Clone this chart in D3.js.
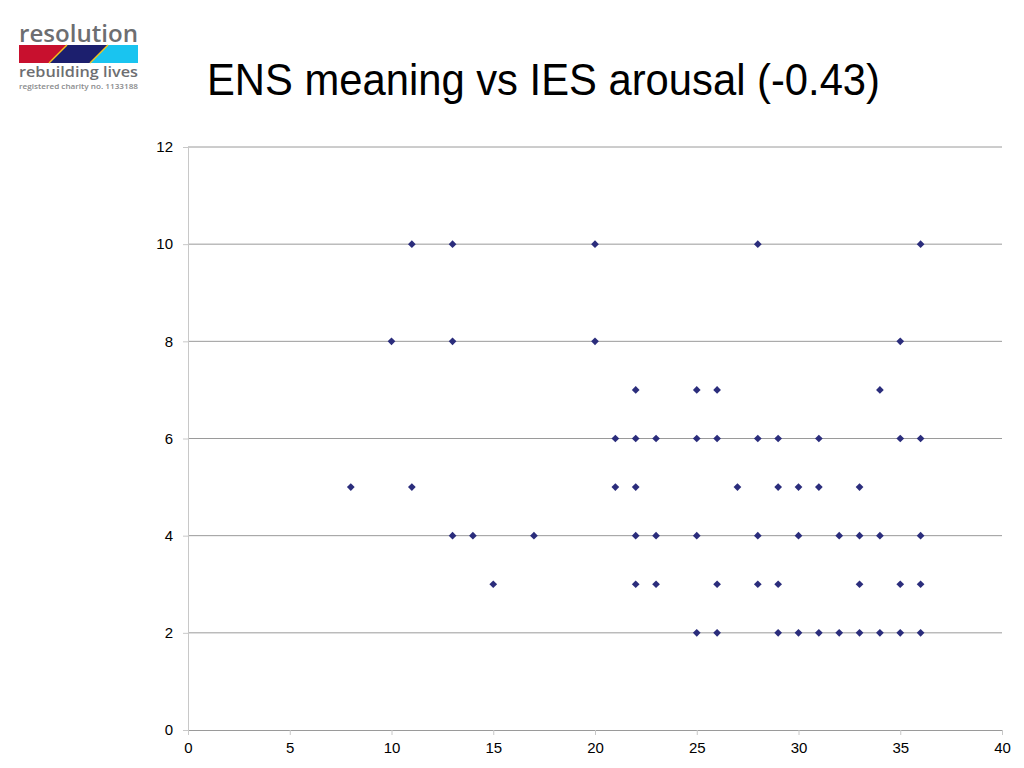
<!DOCTYPE html>
<html>
<head>
<meta charset="utf-8">
<script src="https://cdn.jsdelivr.net/npm/d3@7"></script>
<style>
  html, body { margin: 0; padding: 0; background: #fff; }
  svg { display: block; font-family: "Liberation Sans", Arial, sans-serif; }
</style>
</head>
<body>
<svg id="chart" width="1024" height="768"></svg>
<script>
// ---- Data (IES arousal on x, ENS meaning on y) ----
const iesArousal = [
  11, 13, 20, 28, 36,
  10, 13, 20, 35,
  22, 25, 26, 34,
  21, 22, 23, 25, 26, 28, 29, 31, 35, 36,
  8, 11, 21, 22, 27, 29, 30, 31, 33,
  13, 14, 17, 22, 23, 25, 28, 30, 32, 33, 34, 36,
  15, 22, 23, 26, 28, 29, 33, 35, 36,
  25, 26, 29, 30, 31, 32, 33, 34, 35, 36
];
const ensMeaning = [
  10, 10, 10, 10, 10,
  8, 8, 8, 8,
  7, 7, 7, 7,
  6, 6, 6, 6, 6, 6, 6, 6, 6, 6,
  5, 5, 5, 5, 5, 5, 5, 5, 5,
  4, 4, 4, 4, 4, 4, 4, 4, 4, 4, 4, 4,
  3, 3, 3, 3, 3, 3, 3, 3, 3,
  2, 2, 2, 2, 2, 2, 2, 2, 2, 2
];
const xTicks = [0, 5, 10, 15, 20, 25, 30, 35, 40];
const yTicks = [0, 2, 4, 6, 8, 10, 12];
const titleText = "ENS meaning vs IES arousal (-0.43)";

const points = iesArousal.map((x, i) => ({ x, y: ensMeaning[i] }));

const svg = d3.select("#chart");

// ---- Logo ----
const logo = svg.append("g").attr("font-family", "'Open Sans', 'DejaVu Sans', sans-serif");
logo.append("text").attr("x", 19).attr("y", 42)
  .attr("font-size", 24).attr("font-weight", 600).attr("fill", "#6d6e71")
  .attr("textLength", 119).attr("lengthAdjust", "spacingAndGlyphs")
  .text("resolution");
const bandTop = 45, bandBot = 63, bl = 19, br = 138;
logo.append("rect").attr("x", bl).attr("y", bandTop).attr("width", br - bl).attr("height", bandBot - bandTop).attr("fill", "#19c4f0");
logo.append("polygon").attr("points", `${bl},${bandTop} 108,${bandTop} 90,${bandBot} ${bl},${bandBot}`).attr("fill", "#1c1f6e");
logo.append("polygon").attr("points", `${bl},${bandTop} 67,${bandTop} 49,${bandBot} ${bl},${bandBot}`).attr("fill", "#c8102e");
logo.append("line").attr("x1", 67).attr("y1", bandTop).attr("x2", 49).attr("y2", bandBot).attr("stroke", "#f4c21b").attr("stroke-width", 1.5);
logo.append("line").attr("x1", 108).attr("y1", bandTop).attr("x2", 90).attr("y2", bandBot).attr("stroke", "#f4c21b").attr("stroke-width", 1.5);
logo.append("text").attr("x", 19).attr("y", 77)
  .attr("font-size", 15).attr("font-weight", 600).attr("fill", "#6d6e71")
  .attr("textLength", 119).attr("lengthAdjust", "spacingAndGlyphs")
  .text("rebuilding lives");
logo.append("text").attr("x", 19).attr("y", 89)
  .attr("font-size", 7.5).attr("font-weight", 600).attr("fill", "#8a8b8d")
  .attr("textLength", 119).attr("lengthAdjust", "spacingAndGlyphs")
  .text("registered charity no. 1133188");

// ---- Title ----
svg.append("text").attr("x", 207).attr("y", 95)
  .attr("font-size", 45).attr("fill", "#000")
  .attr("textLength", 673).attr("lengthAdjust", "spacingAndGlyphs")
  .text(titleText);

// ---- Scales ----
const x = d3.scaleLinear().domain([0, 40]).range([188, 1002]);
const y = d3.scaleLinear().domain([0, 12]).range([730, 147]);

// Gridlines
svg.append("g").selectAll("line").data(yTicks.filter(t => t > 0)).join("line")
  .attr("x1", x(0)).attr("x2", x(40))
  .attr("y1", d => y(d)).attr("y2", d => y(d))
  .attr("stroke", "#9a9a9a").attr("stroke-width", 1);

// Y axis
const yAxis = svg.append("g").attr("transform", `translate(${x(0)},0)`)
  .call(d3.axisLeft(y).tickValues(yTicks).tickSize(5).tickPadding(10).tickFormat(d3.format("d")));
yAxis.select(".domain").attr("stroke", "#c8c8c8");
yAxis.selectAll(".tick line").attr("stroke", "#c8c8c8");
yAxis.selectAll(".tick text").attr("font-size", 15).attr("fill", "#000")
  .attr("font-family", "Liberation Sans, Arial, sans-serif");

// X axis
const xAxis = svg.append("g").attr("transform", `translate(0,${y(0)})`)
  .call(d3.axisBottom(x).tickValues(xTicks).tickSize(5).tickPadding(7).tickFormat(d3.format("d")));
xAxis.select(".domain").attr("stroke", "#9a9a9a");
xAxis.selectAll(".tick line").attr("stroke", "#c8c8c8");
xAxis.selectAll(".tick text").attr("font-size", 15).attr("fill", "#000")
  .attr("font-family", "Liberation Sans, Arial, sans-serif");

// Points (diamonds)
const diamond = d3.symbol().type(d3.symbolDiamond2).size(38);
svg.append("g").selectAll("path").data(points).join("path")
  .attr("transform", d => `translate(${x(d.x)},${y(d.y)})`)
  .attr("d", diamond)
  .attr("fill", "#2b2d7c");
</script>
</body>
</html>
